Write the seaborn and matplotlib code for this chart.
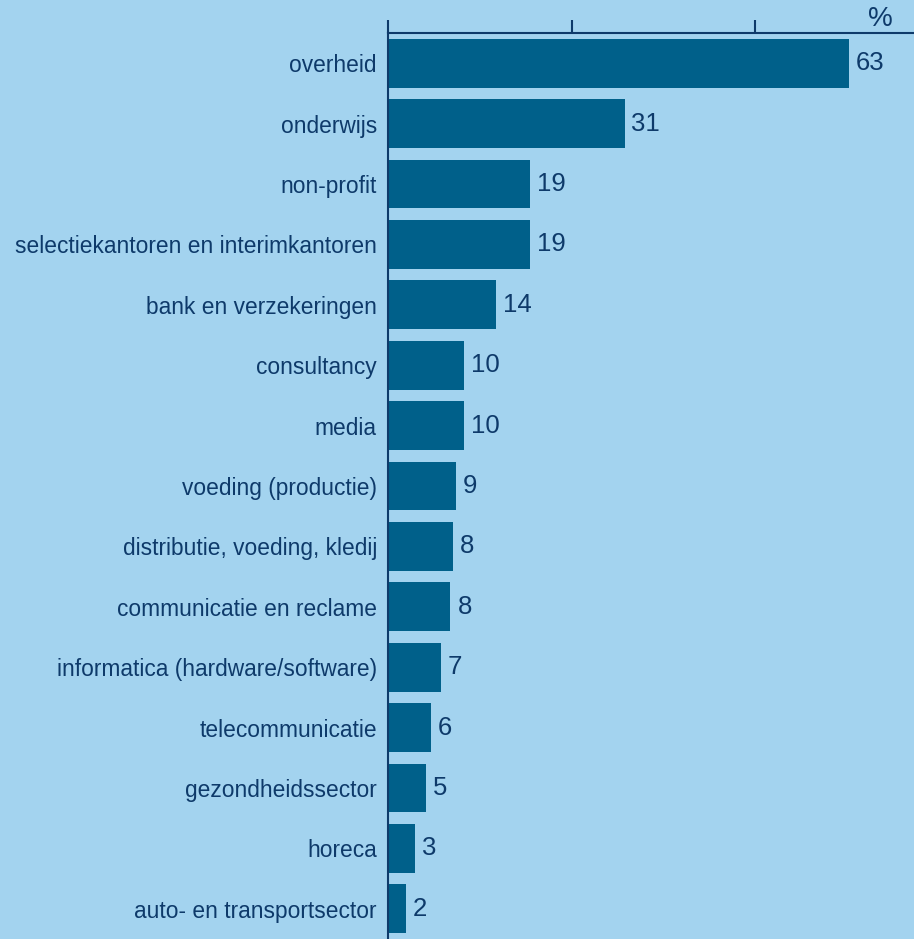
import pandas as pd
import matplotlib
matplotlib.use('Agg')
import matplotlib.pyplot as plt
import seaborn as sns

# sectors and share (%)
sectors = ['overheid', 'onderwijs', 'non-profit',
           'selectiekantoren en interimkantoren', 'bank en verzekeringen',
           'consultancy', 'media', 'voeding (productie)',
           'distributie, voeding, kledij', 'communicatie en reclame',
           'informatica (hardware/software)', 'telecommunicatie',
           'gezondheidssector', 'horeca', 'auto- en transportsector']
values = [62.7, 32.2, 19.3, 19.3, 14.7, 10.4, 10.4, 9.2, 8.8, 8.5, 7.2, 5.8, 5.2, 3.7, 2.4]
value_labels = ['63', '31', '19', '19', '14', '10', '10', '9', '8', '8', '7', '6', '5', '3', '2']

df = pd.DataFrame({'sector': sectors, 'pct': values})

bg = '#A3D3EF'
bar_col = '#00608A'
navy = '#0E3A6A'

sns.set_theme(style='white')
plt.rcParams['font.family'] = ['Liberation Sans', 'DejaVu Sans']

fig = plt.figure(figsize=(9.14, 9.39), dpi=100, facecolor=bg)
ax = fig.add_axes([0.4245, 0.0, 0.5755, 0.9649])
ax.set_facecolor(bg)

sns.barplot(data=df, x='pct', y='sector', orient='h', color=bar_col,
            saturation=1, width=0.81, linewidth=0, edgecolor=bar_col, ax=ax)

ax.bar_label(ax.containers[0], labels=value_labels, padding=5,
             fontsize=18.5, color=navy)

ax.set_xlim(0, 71.6)
ax.set_ylim(14.5, -0.5)
ax.xaxis.tick_top()
ax.set_xticks([0, 25, 50])
ax.set_xticklabels([])
ax.tick_params(axis='x', direction='out', length=9.5, width=1.5, color=navy, top=True, bottom=False)
ax.tick_params(axis='y', length=0, labelsize=16.4, labelcolor=navy, pad=8)
ax.set_xlabel('')
ax.set_ylabel('')

for s in ['right', 'bottom']:
    ax.spines[s].set_visible(False)
for s in ['top', 'left']:
    ax.spines[s].set_color(navy)
    ax.spines[s].set_linewidth(1.5)

fig.text(0.963, 0.98, '%', ha='center', va='center', fontsize=20, color=navy)

fig.savefig('out.png', dpi=100, facecolor=bg)
